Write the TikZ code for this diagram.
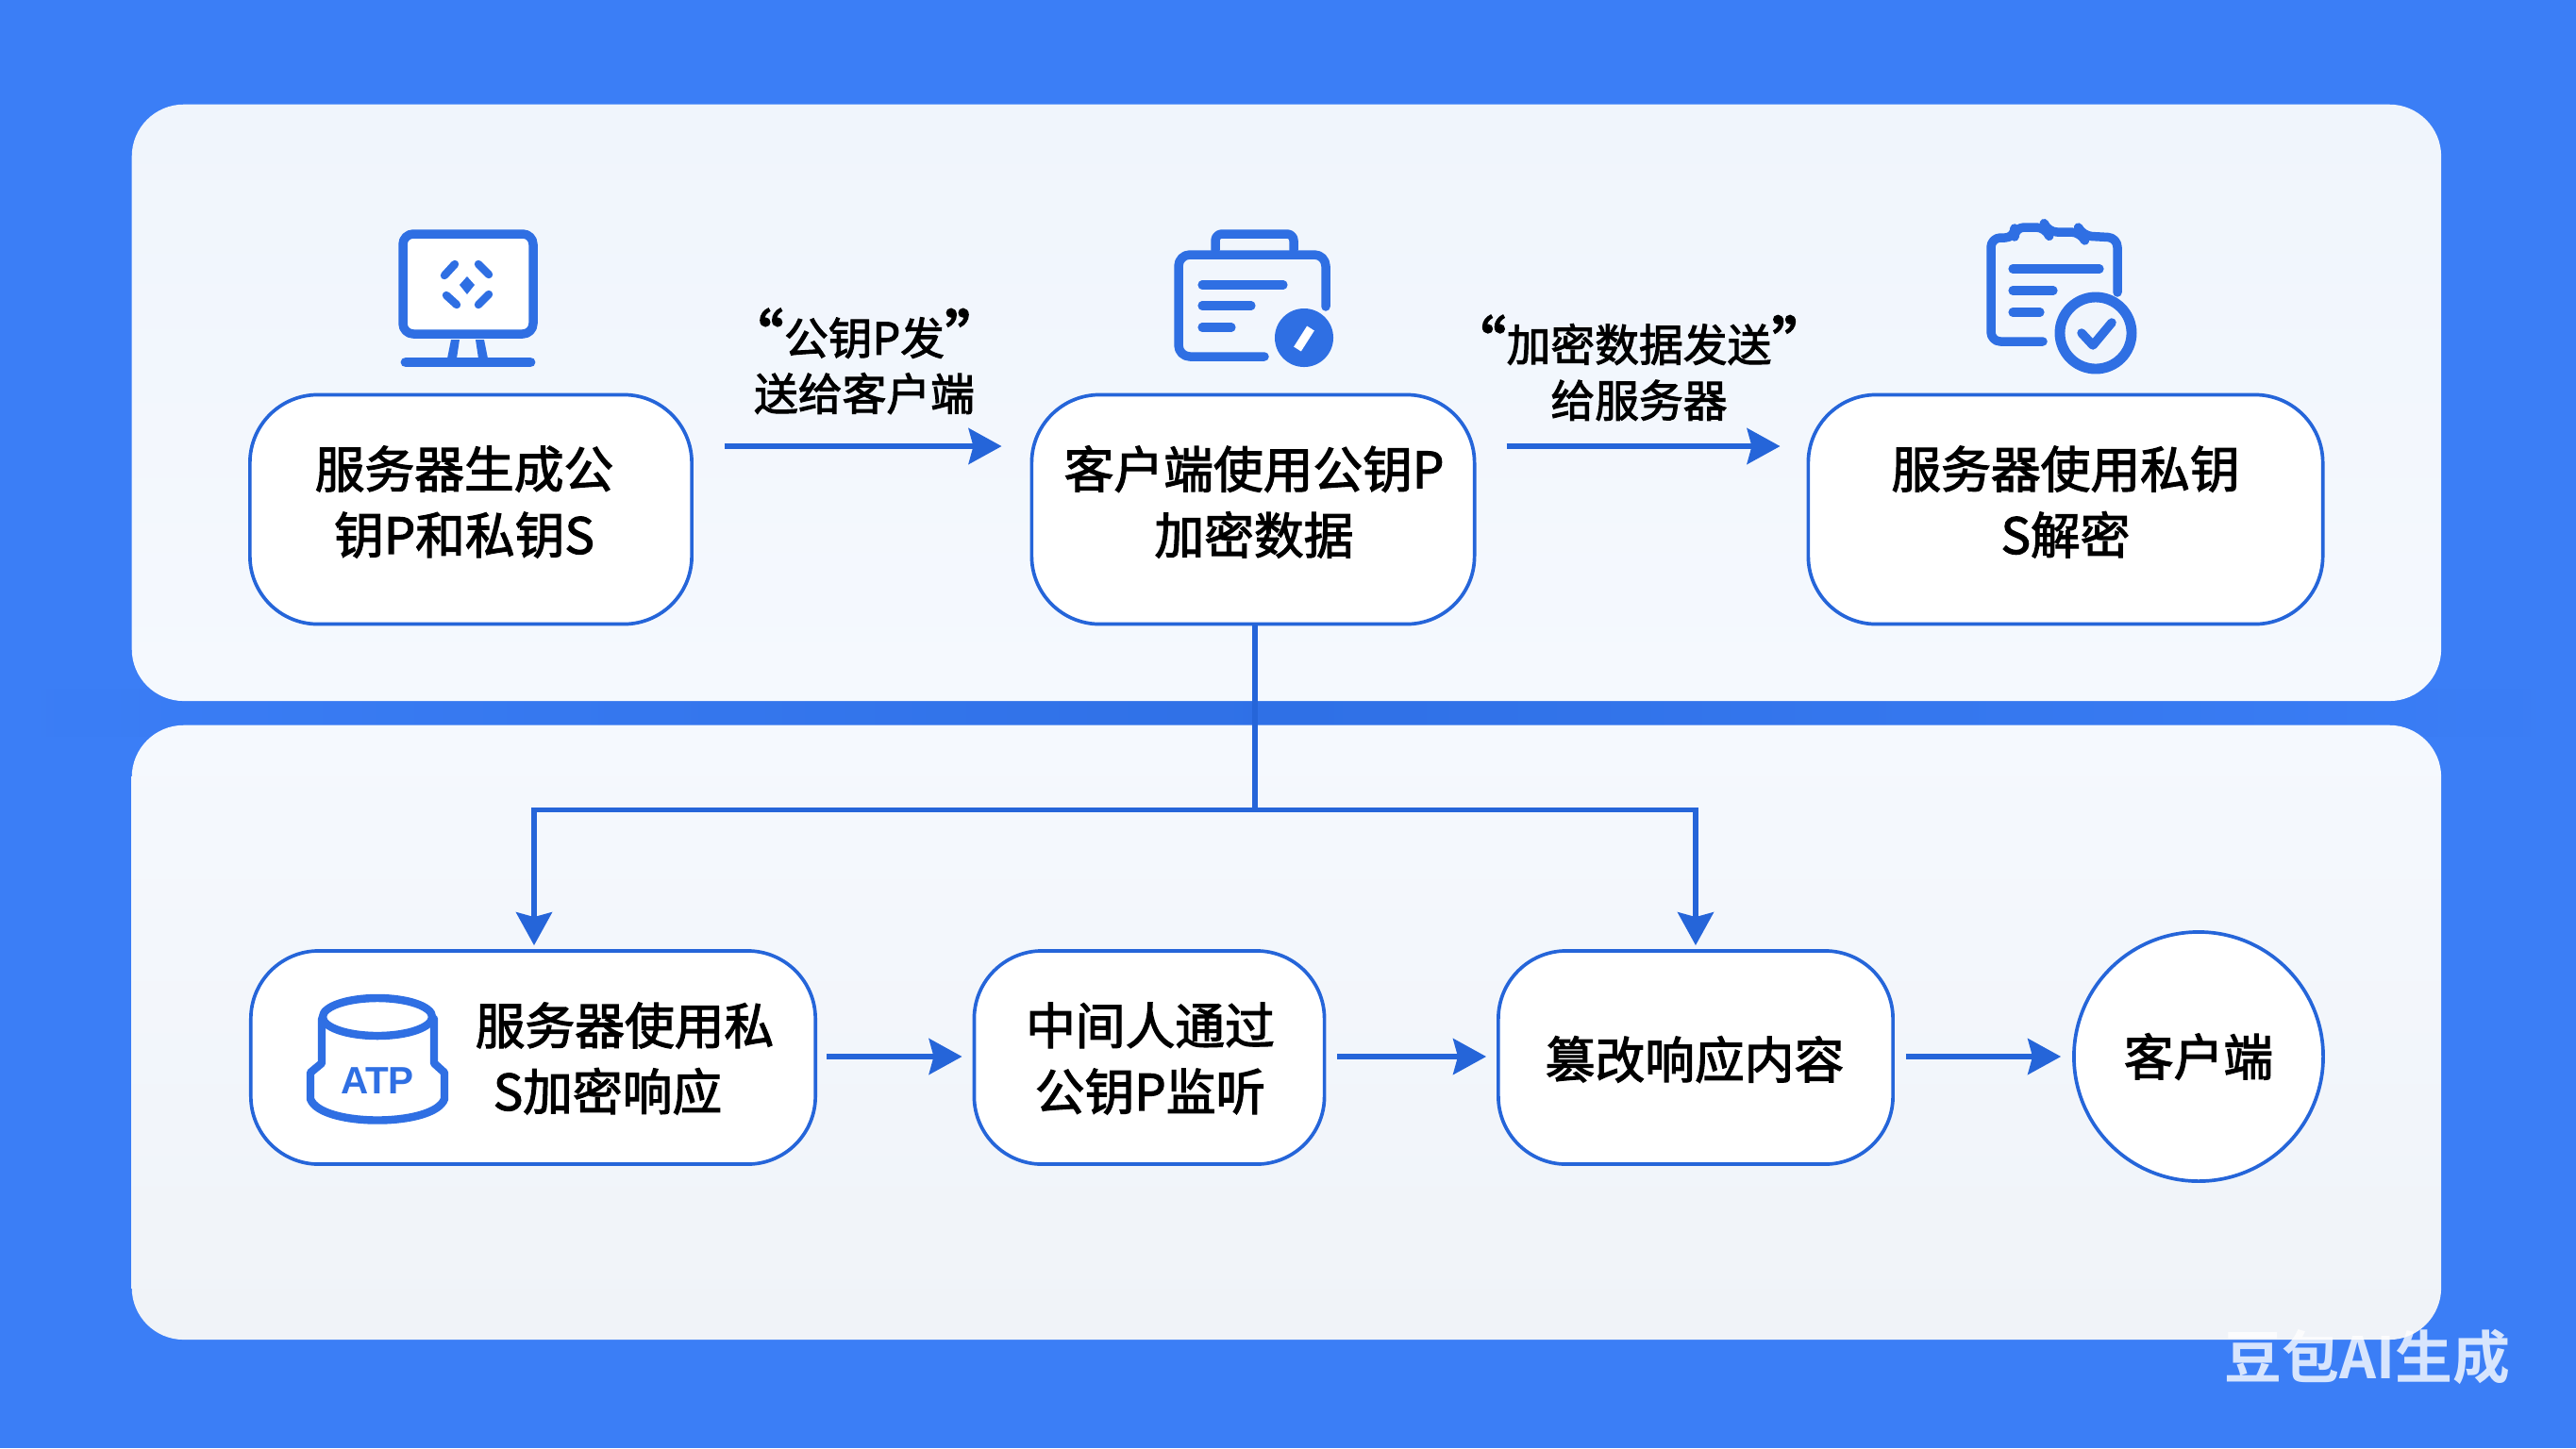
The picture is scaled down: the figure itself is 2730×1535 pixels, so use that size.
\documentclass[tikz,border=0pt]{standalone}
\usepackage{fontspec}
\setmainfont{Noto Sans CJK SC}[FakeBold=2.2]
\newfontfamily\wmfont{Noto Sans CJK SC Bold}
\newfontfamily\latinb{Liberation Sans Bold}
\usetikzlibrary{calc,arrows.meta}
\newcommand{\qopen}{\raisebox{-2.2pt}{\fontsize{19}{19}\selectfont “}}
\newcommand{\qclose}{\raisebox{-2.2pt}{\fontsize{19}{19}\selectfont ”}}
\definecolor{bgblue}{HTML}{3B7EF6}
\definecolor{bandblue}{HTML}{2F70E6}
\definecolor{panela}{HTML}{F0F5FC}
\definecolor{panelb}{HTML}{F5F9FE}
\definecolor{panelc}{HTML}{F0F3F8}
\definecolor{linec}{HTML}{2565D9}
\definecolor{iconc}{HTML}{2F6FE3}
\tikzset{
 panel/.style={draw=none,minimum width=24.46cm,rounded corners=0.55cm,inner sep=0pt},
 box/.style={draw=linec,line width=1.05pt,fill=white,rounded corners=0.72cm,minimum height=2.43cm,inner sep=0pt,align=center,text=black},
 flow/.style={draw=linec,line width=1.45pt,-{Stealth[length=0.35cm,width=0.38cm,inset=0.05cm,fill=linec]}},
 lab/.style={inner sep=0pt,align=center,text=black,font=\fontsize{13.3}{16.8}\selectfont},
 boxtext/.style={inner sep=0pt,align=center,text=black,font=\fontsize{15}{19.9}\selectfont},
 ic/.style={draw=iconc,line width=2.7pt,line cap=round,line join=round},
 icl/.style={draw=iconc,line width=2.6pt,line cap=round},
 dashmark/.style={iconc,line width=2.4pt,line cap=round},
}
\begin{document}
\begin{tikzpicture}[x=0.01cm,y=-0.01cm]
\useasboundingbox (0,0) rectangle (2730,1535);
\fill[bgblue] (0,0) rectangle (2730,1535);
\shade[left color=bgblue,right color=bgblue,middle color=bandblue] (0,730) rectangle (2730,780);
% panels
\node[panel,top color=panela,bottom color=panelb,minimum height=6.32cm,anchor=north west] (p1) at (139,110) {};
\node[panel,top color=panelb,middle color=panelb,bottom color=panelc,minimum height=6.51cm,anchor=north west] (p2) at (139,768) {};
% boxes
\node[box,minimum width=4.68cm] (n1) at (499,540) {};
\node[box,minimum width=4.69cm] (n2) at (1328,540) {};
\node[box,minimum width=5.45cm] (n3) at (2189,540) {};
\node[box,minimum width=5.98cm,minimum height=2.26cm] (n4) at (565,1121) {};
\node[box,minimum width=3.71cm,minimum height=2.26cm] (n5) at (1218,1121) {};
\node[box,minimum width=4.18cm,minimum height=2.26cm] (n6) at (1797,1121) {};
\node[box,circle,rounded corners=0pt,minimum size=2.64cm] (n7) at (2330,1120) {};
% box texts
\node[boxtext] (t1) at (492,532) {服务器生成公\\钥P和私钥S};
\node[boxtext] (t2) at (1329,532) {客户端使用公钥P\\加密数据};
\node[boxtext] (t3) at (2189,532) {服务器使用私钥\\S解密};
\node[boxtext] (t4) at (662,1122) {服务器使用私\\S加密响应\rule{0.36cm}{0pt}};
\node[boxtext] (t5) at (1219,1122) {中间人通过\\公钥P监听};
\node[boxtext] (t6) at (1796,1123) {篡改响应内容};
\node[boxtext] (t7) at (2330,1120) {客户端};
% edge labels
\node[lab] (l1) at (916,383) {\qopen 公钥P发\qclose\\送给客户端};
\node[lab] (l2) at (1737,390) {\qopen 加密数据发送\qclose\\给服务器};
% connectors
\draw[flow] ($(n1.east)+(33,-67)$) -- ($(n2.west)+(-30,-67)$);
\draw[flow] ($(n2.east)+(32,-67)$) -- ($(n3.west)+(-28,-67)$);
\coordinate (j) at ($(n2.south)+(2,195)$);
\draw[linec,line width=1.45pt] (n2.south -| j) -- (j);
\draw[flow] (j) -| ($(n4.north)+(1,-4)$);
\draw[flow] (j) -| ($(n6.north)+(0,-4)$);
\draw[flow] ($(n4.east)+(10,-1)$) -- ($(n5.west)+(-11,-1)$);
\draw[flow] ($(n5.east)+(12,-1)$) -- ($(n6.west)+(-11,-1)$);
\draw[flow] ($(n6.east)+(12,-1)$) -- ($(n7.west)+(-12,0)$);
% monitor icon
\draw[ic,fill=white,rounded corners=0.11cm] (427,248) rectangle (565,354);
\fill[iconc] (478,360) -- (487,360) -- (484,380) -- (474,380) -- cycle;
\fill[iconc] (504,360) -- (513,360) -- (517,380) -- (507,380) -- cycle;
\draw[iconc,line width=3.1pt,line cap=round] (430,384) -- (562,384);
\fill[iconc] (495,293) -- (503,302) -- (495,312) -- (487,302) -- cycle;
\draw[dashmark] (471,292) -- (482,280);
\draw[dashmark] (507,280) -- (518,291);
\draw[dashmark] (473,313) -- (484,323);
\draw[dashmark] (507,323) -- (518,312);
% client icon
\draw[ic,rounded corners=0.07cm] (1288,265) -- (1288,248) -- (1371,248) -- (1371,265);
\draw[ic,rounded corners=0.12cm] (1340,378) -- (1249,378) -- (1249,270) -- (1405,270) -- (1405,325);
\draw[icl] (1274,302) -- (1360,302);
\draw[icl] (1274,324) -- (1326,324);
\draw[icl] (1274,347) -- (1305,347);
\fill[iconc] (1382,358) circle[radius=0.31cm];
\draw[white,line width=2.6pt] (1375,370) -- (1389,348);
% check icon
\draw[ic,rounded corners=0.1cm] (2165,362) -- (2110,362) -- (2110,252) -- (2135,252) -- (2135,241) -- (2168,241) -- (2170,246) -- (2205,246) -- (2207,250) -- (2244,252) -- (2244,310);
\draw[icl] (2133,285) -- (2225,285);
\draw[icl] (2133,308) -- (2176,308);
\draw[icl] (2133,331) -- (2162,331);
\draw[iconc,line width=3.1pt,fill=panela] (2221,353) circle[radius=0.38cm];
\draw[ic] (2206,353) -- (2218,366) -- (2238,342);
% cylinder icon
\draw[ic,line width=2.4pt,fill=white] (341,1080) -- (341,1127) -- (329,1137) -- (329,1165) .. controls (340,1195) and (460,1195) .. (471,1165) -- (471,1137) -- (460,1127) -- (460,1080);
\draw[ic,line width=2.4pt,fill=white] (400,1078) ellipse[x radius=0.58cm,y radius=0.2cm];
\node[inner sep=1pt,text=iconc,fill=white,font=\latinb\fontsize{11.5}{12}\selectfont] (ticon) at (400,1146) {ATP};
% watermark
\node[inner sep=0pt,text=white,opacity=0.8,font=\wmfont\fontsize{17.3}{17.3}\selectfont] (wm) at (2509,1438) {豆包AI生成};
\end{tikzpicture}
\end{document}
